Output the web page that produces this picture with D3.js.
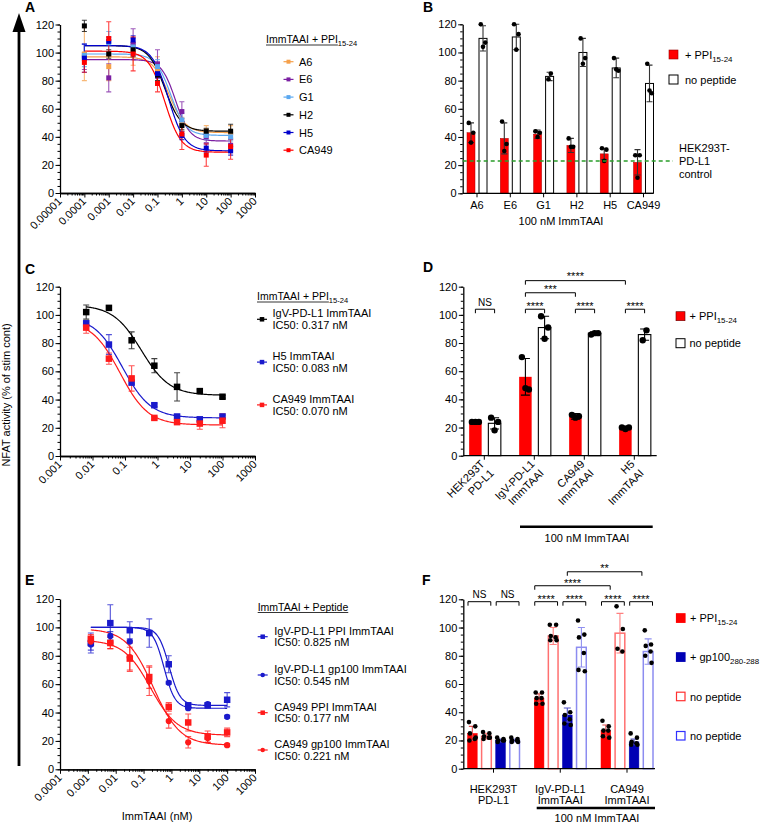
<!DOCTYPE html>
<html><head><meta charset="utf-8">
<script src="https://cdn.jsdelivr.net/npm/d3@7"></script>
<style>
body{margin:0;background:#fff}
svg{display:block}
text{font-family:"Liberation Sans",Arial,Helvetica,sans-serif;fill:#000}
</style>
</head><body>
<svg id="c" width="764" height="824"></svg>
<script>
// ---------------- DATA ----------------
const yTickVals = [0, 20, 40, 60, 80, 100, 120];

// Panel A
const aDoses = [0.0001, 0.001, 0.01, 0.1, 1, 10, 100];
const aNames = ["A6", "E6", "G1", "H2", "H5", "CA949"];
const aA6 = [99, 90, 101, 87, 49, 44, 43];
const aE6 = [97, 82, 106, 92, 58, 40, 34];
const aG1 = [98, 107, 104, 90, 52, 41, 40];
const aH2 = [119, 99, 102, 84, 48, 44, 44];
const aH5 = [96, 108, 109, 85, 41, 32, 30];
const aCA949 = [93, 110, 99, 78, 42, 27, 33];
const aA6Err = [19, 10, 10, 10, 5, 4, 5];
const aE6Err = [9, 10, 11, 10, 7, 4, 4];
const aG1Err = [8, 8, 6, 5, 5, 3, 3];
const aH2Err = [4, 3, 5, 4, 3, 2, 5];
const aH5Err = [10, 3, 3, 3, 3, 3, 3];
const aCA949Err = [7, 12, 12, 6, 11, 8, 9];
const aTop = [97, 95, 99, 105, 105, 101];
const aBottom = [43, 37, 41, 44, 30, 29];
const aIC50 = [0.3, 0.55, 0.35, 0.2, 0.28, 0.2];
const aHill = [1.3, 1.5, 1.4, 1.3, 1.3, 1.3];
const aTickVals = [1e-5, 1e-4, 1e-3, 1e-2, 1e-1, 1, 10, 100, 1000];
const aTickLabels = ["0.00001", "0.0001", "0.001", "0.01", "0.1", "1", "10", "100", "1000"];

// Panel B
const bNames = ["A6", "E6", "G1", "H2", "H5", "CA949"];
const bPPI = [43, 39, 42, 34, 28, 22];
const bPPIErr = [7, 11, 3, 5, 4, 9];
const bNone = [110, 111, 83, 100, 89, 78];
const bNoneErr = [9, 9, 3, 10, 7, 13];
const bPPIPts = [[50, 43, 36], [51, 35, 30], [44, 43, 40], [39, 33, 33], [32, 31, 23], [27, 27, 11]];
const bNonePts = [[120, 107, 104], [120, 113, 102], [85, 81], [110, 96, 92], [96, 87, 88], [92, 71, 73]];
const bControl = 23;

// Panel C
const cDoses = [0.0064, 0.032, 0.16, 0.8, 4, 20, 100];
const cNames = ["IgV-PD-L1 ImmTAAI", "H5 ImmTAAI", "CA949 ImmTAAI"];
const cIC50Labels = ["IC50: 0.317 nM", "IC50: 0.083 nM", "IC50: 0.070 nM"];
const cIgV = [102, 105, 82, 64, 49, 46, 42];
const cH5 = [94, 79, 52, 36, 28, 26, 28];
const cCA949 = [91, 69, 55, 27, 24, 23, 25];
const cIgVErr = [5, 0, 6, 5, 10, 1, 1];
const cH5Err = [2, 7, 1, 1, 1, 1, 1];
const cCA949Err = [4, 4, 9, 1, 1, 4, 5];
const cTop = [107, 99, 96];
const cBottom = [43, 27, 22];
const cIC50 = [0.317, 0.083, 0.070];
const cHill = [1, 1, 1];
const cTickVals = [0.001, 0.01, 0.1, 1, 10, 100, 1000];
const cTickLabels = ["0.001", "0.01", "0.1", "1", "10", "100", "1000"];

// Panel D
const dGroups = [["HEK293T", "PD-L1"], ["IgV-PD-L1", "ImmTAAI"], ["CA949", "ImmTAAI"], ["H5", "ImmTAAI"]];
const dPPI = [24, 56, 28, 20];
const dPPIErr = [1, 13, 2, 1];
const dNone = [23, 91, 87, 86];
const dNoneErr = [4, 8, 1, 4];
const dPPIPts = [[24, 24, 24], [70, 47, 48], [29, 28, 27], [20, 20, 19]];
const dNonePts = [[27, 24, 18], [99, 91, 83], [86, 87, 87], [89, 82]];
const dSigLabels = ["NS", "****", "****", "****", "***", "****"];

// Panel E
const eDoses = [0.00128, 0.0064, 0.032, 0.16, 0.8, 4, 20, 100];
const eNames = ["IgV-PD-L1 PPI ImmTAAI", "IgV-PD-L1 gp100 ImmTAAI", "CA949 PPI ImmTAAI", "CA949 gp100 ImmTAAI"];
const eIC50Labels = ["IC50: 0.825 nM", "IC50: 0.545 nM", "IC50: 0.177 nM", "IC50: 0.221 nM"];
const eIgVPPI = [89, 103, 98, 96, 74, 45, 45, 49];
const eIgVgp = [88, 94, 90, 96, 61, 43, 46, 37];
const eCAPPI = [92, 89, 78, 65, 44, 33, 23, 26];
const eCAgp = [90, 89, 79, 62, 34, 19, 22, 17];
const eIgVPPIErr = [7, 13, 6, 10, 6, 2, 1, 5];
const eIgVgpErr = [4, 3, 1, 1, 1, 1, 1, 1];
const eCAPPIErr = [3, 4, 8, 8, 3, 6, 4, 3];
const eCAgpErr = [3, 4, 10, 10, 5, 4, 3, 1];
const eTop = [100, 100, 91, 99];
const eBottom = [45, 43, 24, 17];
const eIC50 = [0.825, 0.545, 0.177, 0.221];
const eHill = [2.2, 2.2, 0.9, 0.9];
const eTickVals = [0.0001, 0.001, 0.01, 0.1, 1, 10, 100, 1000];
const eTickLabels = ["0.0001", "0.001", "0.01", "0.1", "1", "10", "100", "1000"];

// Panel F
const fGroups = [["HEK293T", "PD-L1"], ["IgV-PD-L1", "ImmTAAI"], ["CA949", "ImmTAAI"]];
const fPPI = [25, 50, 27];
const fPPIErr = [5, 3, 4];
const fPPINone = [23, 94, 96];
const fPPINoneErr = [2, 6, 14];
const fGp = [20, 38, 19];
const fGpErr = [1, 5, 2];
const fGpNone = [20, 86, 83];
const fGpNoneErr = [1, 14, 9];
const fPPIPts = [[33, 30, 25, 21, 20, 22], [54, 54, 50, 50, 46, 46], [34, 30, 27, 27, 23, 22]];
const fPPINonePts = [[26, 25, 23, 22, 21, 22], [102, 102, 94, 93, 91, 91], [115, 99, 85, 83]];
const fGpPts = [[22, 21, 20, 20, 19, 20], [47, 40, 38, 35, 32, 31], [25, 22, 19, 18, 17, 17]];
const fGpNonePts = [[22, 21, 20, 20, 19, 19], [105, 95, 93, 82, 70, 69], [98, 88, 87, 83, 80, 75]];
const fSigLabels = ["NS", "NS", "****", "****", "****", "****", "****", "**"];

// ---------------- DRAWING ----------------
const svg = d3.select("#c");
svg.append("rect").attr("width", 764).attr("height", 824).attr("fill", "#fff");
const FS = 11;

function styleAxis(g) {
  g.attr("font-family", "'Liberation Sans', Arial, sans-serif").attr("font-size", FS);
  g.selectAll(".domain").attr("stroke", "#000").attr("stroke-width", 1.3);
  g.selectAll(".tick line").attr("stroke", "#000").attr("stroke-width", 1);
  g.selectAll(".tick text").attr("fill", "#000");
}

function yAxis(g, y, x0) {
  const gm = g.append("g").attr("transform", `translate(${x0},0)`)
    .call(d3.axisLeft(y).tickValues(d3.range(0, 121, 5)).tickSize(2.5).tickFormat("").tickSizeOuter(0));
  styleAxis(gm);
  gm.select(".domain").remove();
  const ga = g.append("g").attr("transform", `translate(${x0},0)`)
    .call(d3.axisLeft(y).tickValues(yTickVals).tickSize(4.5).tickPadding(1.5).tickSizeOuter(0));
  styleAxis(ga);
}

function addText(g, x, y, main, sub, o = {}) {
  const size = o.size || FS;
  const t = g.append("text").attr("x", x).attr("y", y).attr("font-size", size)
    .attr("text-anchor", o.anchor || "start");
  t.append("tspan").text(main);
  if (sub) t.append("tspan").attr("font-size", size * 0.72).attr("dy", 3).text(sub);
  if (o.underline) {
    const len = t.node().getSubStringLength(0, main.length);
    g.append("line").attr("x1", x).attr("x2", x + len).attr("y1", y + 2).attr("y2", y + 2)
      .attr("stroke", "#000").attr("stroke-width", 0.8);
  }
  return t;
}

function marker(g, shape, cx, cy, s, color) {
  if (shape === "circle") {
    g.append("circle").attr("cx", cx).attr("cy", cy).attr("r", s / 2).attr("fill", color);
  } else {
    g.append("rect").attr("x", cx - s / 2).attr("y", cy - s / 2).attr("width", s).attr("height", s).attr("fill", color);
  }
}

function logPanel(o) {
  const g = svg.append("g");
  const x = d3.scaleLog().domain(o.domain).range([o.x0, o.x1]);
  const y = d3.scaleLinear().domain([0, 120]).range([o.yb, o.yt]);
  yAxis(g, y, o.x0);
  const gx = g.append("g").attr("transform", `translate(0,${o.yb})`);
  const minors = [];
  const k0 = Math.round(Math.log10(o.domain[0])), k1 = Math.round(Math.log10(o.domain[1]));
  for (let k = k0; k < k1; k++) for (let m = 2; m < 10; m++) minors.push(m * Math.pow(10, k));
  const gmin = gx.append("g").call(d3.axisBottom(x).tickValues(minors).tickSize(2.5).tickFormat("").tickSizeOuter(0));
  styleAxis(gmin);
  const gmaj = gx.append("g").call(d3.axisBottom(x).tickValues(o.ticks).tickSize(4.5)
    .tickFormat((d, i) => o.labels[i]).tickSizeOuter(0));
  styleAxis(gmaj);
  gmaj.selectAll(".tick text").attr("x", 0).attr("y", 0).attr("dy", 0).attr("text-anchor", "end")
    .attr("transform", "translate(2,9) rotate(-45)");

  o.series.forEach(s => {
    const lo = Math.log10(s.doses[0]), hi = Math.log10(s.doses[s.doses.length - 1]);
    const xs = d3.range(0, 161).map(i => Math.pow(10, lo + (hi - lo) * i / 160));
    const f = v => s.bottom + (s.top - s.bottom) / (1 + Math.pow(v / s.ic50, s.hill));
    g.append("path").datum(xs).attr("d", d3.line().x(v => x(v)).y(v => y(f(v))))
      .attr("fill", "none").attr("stroke", s.color).attr("stroke-width", 1.2);
  });
  o.series.forEach(s => {
    s.means.forEach((m, i) => {
      const e = s.errs[i];
      if (!e) return;
      const cx = x(s.doses[i]), cap = o.cap;
      g.append("path")
        .attr("d", `M${cx},${y(m - e)}V${y(m + e)}M${cx - cap},${y(m + e)}H${cx + cap}M${cx - cap},${y(m - e)}H${cx + cap}`)
        .attr("stroke", s.errColor || s.color).attr("stroke-width", 1.1).attr("fill", "none").attr("opacity", 0.75);
    });
  });
  o.series.forEach(s => {
    s.means.forEach((m, i) => marker(g, s.shape, x(s.doses[i]), y(m), s.shape === "circle" ? o.msize * 0.95 : o.msize, s.color));
  });
  return { g, x, y };
}

function legendMarker(g, shape, cx, cy, color, s) {
  g.append("line").attr("x1", cx - 5).attr("x2", cx + 5).attr("y1", cy).attr("y2", cy).attr("stroke", color).attr("stroke-width", 1.2);
  marker(g, shape, cx, cy, s, color);
}

function bracket(g, x1, x2, yy, label, textDy) {
  g.append("path").attr("d", `M${x1},${yy + 4}V${yy}H${x2}V${yy + 4}`).attr("fill", "none")
    .attr("stroke", "#000").attr("stroke-width", 1);
  g.append("text").attr("x", (x1 + x2) / 2).attr("y", yy + (label === "NS" ? -3.5 : textDy))
    .attr("text-anchor", "middle").attr("font-size", label === "NS" ? 10 : 11).text(label);
}

function errBar(g, cx, y, m, e, cap, color) {
  g.append("path")
    .attr("d", `M${cx},${y(m - e)}V${y(m + e)}M${cx - cap},${y(m + e)}H${cx + cap}M${cx - cap},${y(m - e)}H${cx + cap}`)
    .attr("stroke", color).attr("stroke-width", 1.1).attr("fill", "none");
}

function dots(g, cx, y, pts, w, r) {
  const n = pts.length;
  pts.forEach((v, i) => {
    let off;
    if (n <= 3) off = [-0.28, 0.28, 0][i] * w;
    else off = (i % 2 ? 0.3 : -0.3) * w + (i % 3 - 1) * 0.05 * w;
    if (n === 2) off = [0.15, -0.15][i] * w;
    g.append("circle").attr("cx", cx + off).attr("cy", y(v)).attr("r", r).attr("fill", "#000");
  });
}

// ---- Big arrow & shared y label ----
svg.append("line").attr("x1", 19).attr("x2", 19).attr("y1", 28).attr("y2", 766).attr("stroke", "#000").attr("stroke-width", 2.8);
svg.append("path").attr("d", "M19,13L12.5,32L25.5,32Z").attr("fill", "#000");
svg.append("text").attr("transform", "translate(10,395) rotate(-90)").attr("text-anchor", "middle")
  .attr("font-size", 11).text("NFAT activity (% of stim cont)");

// panel letters
[["A", 25, 12], ["B", 423, 12], ["C", 25, 274], ["D", 423, 272], ["E", 25, 585], ["F", 422, 585]].forEach(([t, x, y]) =>
  svg.append("text").attr("x", x).attr("y", y).attr("font-size", 14).attr("font-weight", "bold").text(t));

// ---- Panel A ----
const aColors = ["#f5a04a", "#7b1fa2", "#5ba8f0", "#000000", "#0000cc", "#ff0000"];
const aMeans = [aA6, aE6, aG1, aH2, aH5, aCA949];
const aErrs = [aA6Err, aE6Err, aG1Err, aH2Err, aH5Err, aCA949Err];
logPanel({
  x0: 60, x1: 255, yb: 193, yt: 24.5, domain: [1e-5, 1000], ticks: aTickVals, labels: aTickLabels, cap: 2.5, msize: 5,
  series: aNames.map((n, i) => ({ doses: aDoses, means: aMeans[i], errs: aErrs[i], color: aColors[i], shape: "square",
    top: aTop[i], bottom: aBottom[i], ic50: aIC50[i], hill: aHill[i] }))
});
{
  const g = svg.append("g");
  addText(g, 266, 43, "ImmTAAI + PPI", "15-24", { size: 10.5, underline: true });
  aNames.forEach((n, i) => {
    const cy = 61.7 + i * 17.7;
    legendMarker(g, "square", 288.5, cy, aColors[i], 4);
    addText(g, 299, cy + 4, n, null);
  });
}

// ---- Panel B ----
{
  const g = svg.append("g");
  const y = d3.scaleLinear().domain([0, 120]).range([193.3, 24.3]);
  const x = d3.scalePoint().domain(bNames).range([477, 643.5]);
  const bw = 8, off = 6;
  bNames.forEach((n, i) => {
    const cx = x(n);
    g.append("rect").attr("x", cx - off - bw / 2).attr("y", y(bPPI[i])).attr("width", bw).attr("height", y(0) - y(bPPI[i]))
      .attr("fill", "#ff0000").attr("stroke", "#a00").attr("stroke-width", 0.5);
    g.append("rect").attr("x", cx + off - bw / 2).attr("y", y(bNone[i])).attr("width", bw).attr("height", y(0) - y(bNone[i]))
      .attr("fill", "#fff").attr("stroke", "#000").attr("stroke-width", 1);
    errBar(g, cx - off, y, bPPI[i], bPPIErr[i], 3, "#333");
    errBar(g, cx + off, y, bNone[i], bNoneErr[i], 3, "#333");
    dots(g, cx - off, y, bPPIPts[i], bw, 2.3);
    dots(g, cx + off, y, bNonePts[i], bw, 2.3);
  });
  yAxis(g, y, 462.7);
  const gx = g.append("g").attr("transform", `translate(0,193.3)`);
  gx.append("line").attr("x1", 462.7).attr("x2", 653).attr("stroke", "#000").attr("stroke-width", 1.3);
  bNames.forEach(n => {
    gx.append("line").attr("x1", x(n)).attr("x2", x(n)).attr("y1", 0).attr("y2", 4).attr("stroke", "#000");
    gx.append("text").attr("x", x(n)).attr("y", 16).attr("text-anchor", "middle").attr("font-size", FS).text(n);
  });
  g.append("text").attr("x", 561).attr("y", 225).attr("text-anchor", "middle").attr("font-size", FS).text("100 nM ImmTAAI");
  g.append("line").attr("x1", 462.7).attr("x2", 673).attr("y1", y(bControl)).attr("y2", y(bControl))
    .attr("stroke", "#2a9d2a").attr("stroke-width", 1.5).attr("stroke-dasharray", "4,3");
  ["HEK293T-", "PD-L1", "control"].forEach((t, i) =>
    g.append("text").attr("x", 679).attr("y", 152 + i * 12.8).attr("font-size", FS).text(t));
  g.append("rect").attr("x", 669).attr("y", 50).attr("width", 9).attr("height", 9).attr("fill", "#ff0000").attr("stroke", "#900").attr("stroke-width", 0.6);
  addText(g, 685, 58.5, "+ PPI", "15-24");
  g.append("rect").attr("x", 669).attr("y", 75).attr("width", 9).attr("height", 9).attr("fill", "#fff").attr("stroke", "#000").attr("stroke-width", 1);
  addText(g, 685, 83.5, "no peptide", null);
}

// ---- Panel C ----
const cColors = ["#000000", "#1a1acc", "#ff1a1a"];
const cMeans = [cIgV, cH5, cCA949];
const cErrs = [cIgVErr, cH5Err, cCA949Err];
logPanel({
  x0: 60, x1: 255, yb: 456, yt: 286.7, domain: [0.001, 1000], ticks: cTickVals, labels: cTickLabels, cap: 3, msize: 6.5,
  series: cNames.map((n, i) => ({ doses: cDoses, means: cMeans[i], errs: cErrs[i], color: cColors[i], shape: "square",
    top: cTop[i], bottom: cBottom[i], ic50: cIC50[i], hill: cHill[i] }))
});
{
  const g = svg.append("g");
  addText(g, 257, 300, "ImmTAAI + PPI", "15-24", { size: 10.5, underline: true });
  cNames.forEach((n, i) => {
    const c1 = 313.3 + i * 42.8;
    legendMarker(g, "square", 262, c1 + 6, cColors[i], 4.5);
    addText(g, 272.5, c1 + 4, n, null);
    addText(g, 272.5, c1 + 15.7, cIC50Labels[i], null);
  });
}

// ---- Panel D ----
{
  const g = svg.append("g");
  const y = d3.scaleLinear().domain([0, 120]).range([455.7, 286.7]);
  const x = d3.scalePoint().domain(d3.range(dGroups.length)).range([485, 635]);
  const bw = 12.5, off = 9.6;
  dGroups.forEach((grp, i) => {
    const cx = x(i);
    g.append("rect").attr("x", cx - off - bw / 2).attr("y", y(dPPI[i])).attr("width", bw).attr("height", y(0) - y(dPPI[i]))
      .attr("fill", "#ff0000");
    g.append("rect").attr("x", cx + off - bw / 2).attr("y", y(dNone[i])).attr("width", bw).attr("height", y(0) - y(dNone[i]))
      .attr("fill", "#fff").attr("stroke", "#000").attr("stroke-width", 1.1);
    errBar(g, cx - off, y, dPPI[i], dPPIErr[i], 4.5, "#000");
    errBar(g, cx + off, y, dNone[i], dNoneErr[i], 4.5, "#000");
    dots(g, cx - off, y, dPPIPts[i], bw, 3.2);
    dots(g, cx + off, y, dNonePts[i], bw, 3.2);
  });
  yAxis(g, y, 463.3);
  const gx = g.append("g").attr("transform", `translate(0,455.7)`);
  gx.append("line").attr("x1", 463.3).attr("x2", 656.7).attr("stroke", "#000").attr("stroke-width", 1.3);
  dGroups.forEach((grp, i) => {
    const tx = x(i) - 0.7;
    gx.append("line").attr("x1", tx).attr("x2", tx).attr("y1", 0).attr("y2", 4).attr("stroke", "#000");
    const t = gx.append("text").attr("text-anchor", "end").attr("font-size", FS)
      .attr("transform", `translate(${tx + 1},9) rotate(-45)`);
    t.append("tspan").attr("x", 0).attr("y", 0).text(grp[0]);
    t.append("tspan").attr("x", 0).attr("y", 13).text(grp[1]);
  });
  // brackets
  const L = i => x(i) - off, R = i => x(i) + off;
  bracket(g, L(0), R(0), y(104), dSigLabels[0], 0.5);
  bracket(g, L(1), R(1), y(104), dSigLabels[1], 0.5);
  bracket(g, L(2), R(2), y(104), dSigLabels[2], 0.5);
  bracket(g, L(3), R(3), y(104), dSigLabels[3], 0.5);
  bracket(g, L(1), L(2), y(115.7), dSigLabels[4], 0.5);
  bracket(g, L(1), L(3), y(124.3), dSigLabels[5], -0.5);
  g.append("line").attr("x1", 520).attr("x2", 652.7).attr("y1", 526.7).attr("y2", 526.7).attr("stroke", "#000").attr("stroke-width", 2.5);
  g.append("text").attr("x", 587).attr("y", 542).attr("text-anchor", "middle").attr("font-size", FS).text("100 nM ImmTAAI");
  g.append("rect").attr("x", 676).attr("y", 311.7).attr("width", 9).attr("height", 9).attr("fill", "#ff0000").attr("stroke", "#600").attr("stroke-width", 0.6);
  addText(g, 689.5, 320, "+ PPI", "15-24");
  g.append("rect").attr("x", 676).attr("y", 338.7).attr("width", 9).attr("height", 9).attr("fill", "#fff").attr("stroke", "#000").attr("stroke-width", 1);
  addText(g, 689.5, 347, "no peptide", null);
}

// ---- Panel E ----
const eColors = ["#1a1acc", "#1a1acc", "#ff1a1a", "#ff1a1a"];
const eShapes = ["square", "circle", "square", "circle"];
const eMeans = [eIgVPPI, eIgVgp, eCAPPI, eCAgp];
const eErrs = [eIgVPPIErr, eIgVgpErr, eCAPPIErr, eCAgpErr];
logPanel({
  x0: 60, x1: 255, yb: 769.3, yt: 599, domain: [0.0001, 1000], ticks: eTickVals, labels: eTickLabels, cap: 3, msize: 6.5,
  series: eNames.map((n, i) => ({ doses: eDoses, means: eMeans[i], errs: eErrs[i], color: eColors[i], shape: eShapes[i],
    top: eTop[i], bottom: eBottom[i], ic50: eIC50[i], hill: eHill[i] }))
});
{
  const g = svg.append("g");
  g.append("text").attr("x", 157).attr("y", 820).attr("text-anchor", "middle").attr("font-size", FS).text("ImmTAAI (nM)");
  addText(g, 257.7, 610.5, "ImmTAAI + Peptide", null, { size: 10.5, underline: true });
  const centers = [630.7, 669, 706.7, 744];
  eNames.forEach((n, i) => {
    const c1 = centers[i];
    legendMarker(g, eShapes[i], 262.7, c1 + 6, eColors[i], 4.5);
    addText(g, 274.3, c1 + 4, n, null);
    addText(g, 274.3, c1 + 15.5, eIC50Labels[i], null);
  });
}

// ---- Panel F ----
{
  const g = svg.append("g");
  const y = d3.scaleLinear().domain([0, 120]).range([768.7, 599.3]);
  const x = d3.scalePoint().domain(d3.range(fGroups.length)).range([493.5, 627]);
  const bw = 9.7, step = 14.1;
  const sets = [
    { m: fPPI, e: fPPIErr, p: fPPIPts, fill: "#ff0000", stroke: "#ff0000", ec: "#e05050" },
    { m: fPPINone, e: fPPINoneErr, p: fPPINonePts, fill: "#fff", stroke: "#ff7070", ec: "#ff8080" },
    { m: fGp, e: fGpErr, p: fGpPts, fill: "#0000b4", stroke: "#0000b4", ec: "#5050c8" },
    { m: fGpNone, e: fGpNoneErr, p: fGpNonePts, fill: "#fff", stroke: "#8c8cf0", ec: "#9090f0" }
  ];
  const bx = (gi, si) => x(gi) + (si - 1.5) * step;
  fGroups.forEach((grp, gi) => {
    sets.forEach((s, si) => {
      const cx = bx(gi, si);
      g.append("rect").attr("x", cx - bw / 2).attr("y", y(s.m[gi])).attr("width", bw).attr("height", y(0) - y(s.m[gi]))
        .attr("fill", s.fill).attr("stroke", s.stroke).attr("stroke-width", s.fill === "#fff" ? 1.5 : 0.5);
      errBar(g, cx, y, s.m[gi], s.e[gi], 3.5, s.ec);
      dots(g, cx, y, s.p[gi], bw, 2.3);
    });
  });
  yAxis(g, y, 463.3);
  const gx = g.append("g").attr("transform", `translate(0,768.7)`);
  gx.append("line").attr("x1", 463.3).attr("x2", 655).attr("stroke", "#000").attr("stroke-width", 1.3);
  fGroups.forEach((grp, gi) => {
    gx.append("line").attr("x1", x(gi)).attr("x2", x(gi)).attr("y1", 0).attr("y2", 4).attr("stroke", "#000");
    gx.append("text").attr("x", x(gi)).attr("y", 24.5).attr("text-anchor", "middle").attr("font-size", FS).text(grp[0]);
    gx.append("text").attr("x", x(gi)).attr("y", 35.5).attr("text-anchor", "middle").attr("font-size", FS).text(grp[1]);
  });
  const L = (gi, si) => bx(gi, si) - bw / 2 + 0.5, R = (gi, si) => bx(gi, si) + bw / 2 - 0.5;
  const lv = y(118.3);
  bracket(g, L(0, 0), R(0, 1), lv, fSigLabels[0], 1);
  bracket(g, L(0, 2), R(0, 3), lv, fSigLabels[1], 1);
  bracket(g, L(1, 0), R(1, 1), lv, fSigLabels[2], 1);
  bracket(g, L(1, 2), R(1, 3), lv, fSigLabels[3], 1);
  bracket(g, L(2, 0), R(2, 1), lv, fSigLabels[4], 1);
  bracket(g, L(2, 2), R(2, 3), lv, fSigLabels[5], 1);
  bracket(g, L(1, 0), R(2, 0), y(129.6), fSigLabels[6], 1);
  bracket(g, bx(1, 2), bx(2, 2) + bw / 2 + 3, y(139.5), fSigLabels[7], 0);
  g.append("line").attr("x1", 536.7).attr("x2", 655).attr("y1", 808).attr("y2", 808).attr("stroke", "#000").attr("stroke-width", 2.5);
  g.append("text").attr("x", 597).attr("y", 822).attr("text-anchor", "middle").attr("font-size", FS).text("100 nM ImmTAAI");
  const leg = [
    { fill: "#ff0000", stroke: "#ff0000", main: "+ PPI", sub: "15-24" },
    { fill: "#0000b4", stroke: "#0000b4", main: "+ gp100", sub: "280-288" },
    { fill: "#fff", stroke: "#ff3030", main: "no peptide", sub: null },
    { fill: "#fff", stroke: "#3030ff", main: "no peptide", sub: null }
  ];
  const lc = [618.3, 657.3, 696.7, 736];
  leg.forEach((l, i) => {
    g.append("rect").attr("x", 676.5).attr("y", lc[i] - 4.5).attr("width", 8.5).attr("height", 8.5)
      .attr("fill", l.fill).attr("stroke", l.stroke).attr("stroke-width", 1.2);
    addText(g, 690, lc[i] + 4, l.main, l.sub);
  });
}
</script>
</body></html>
